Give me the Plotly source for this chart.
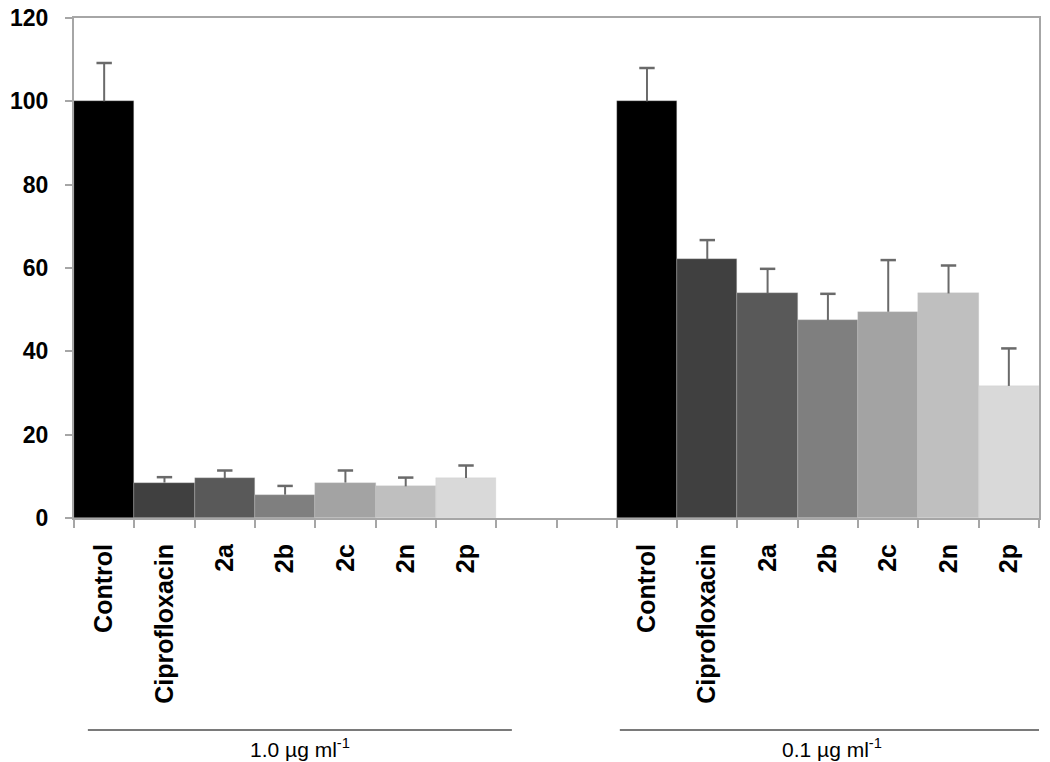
import plotly.graph_objects as go

compounds = ["Control", "Ciprofloxacin", "2a", "2b", "2c", "2n", "2p"]
colors = ["#000000", "#404040", "#595959", "#7f7f7f", "#a3a3a3", "#bfbfbf", "#d9d9d9"]
groups = ["1.0 µg ml<sup>-1</sup>", "0.1 µg ml<sup>-1</sup>"]

vals_high = [100, 8.5, 9.6, 5.6, 8.5, 7.6, 9.6]
err_high = [9.2, 1.3, 1.8, 2.1, 2.9, 2.1, 3.0]
vals_low = [100, 62.1, 53.9, 47.5, 49.5, 53.9, 31.7]
err_low = [8.0, 4.6, 5.9, 6.3, 12.4, 6.7, 9.0]

gap_slots = 2
n = len(compounds)
x_high = list(range(n))
x_low = [n + gap_slots + i for i in range(n)]
total = 2 * n + gap_slots

err_color = "#6a6a6a"
fig = go.Figure()
for xs, vals, errs in [(x_high, vals_high, err_high), (x_low, vals_low, err_low)]:
    fig.add_trace(go.Bar(
        x=xs, y=vals, width=1.0,
        marker=dict(color=colors, line=dict(color="rgba(200,200,200,0.6)", width=0.5)),
        showlegend=False, hoverinfo="skip",
    ))
    # upper error bars: stem + top cap only
    sx, sy = [], []
    for x, v, e in zip(xs, vals, errs):
        sx += [x, x, None]
        sy += [v, v + e, None]
    fig.add_trace(go.Scatter(x=sx, y=sy, mode="lines", line=dict(color=err_color, width=2),
                             showlegend=False, hoverinfo="skip"))
    fig.add_trace(go.Scatter(x=xs, y=[v + e for v, e in zip(vals, errs)], mode="markers",
                             marker=dict(symbol="line-ew-open", size=11, color=err_color,
                                         line=dict(color=err_color, width=2.5)),
                             showlegend=False, hoverinfo="skip"))

axis_color = "#a6a6a6"
fig.update_layout(
    width=1050, height=762,
    margin=dict(l=74, r=11, t=18, b=244, autoexpand=False),
    paper_bgcolor="white", plot_bgcolor="white",
    bargap=0,
    xaxis=dict(
        range=[-0.5, total - 0.5],
        tickmode="array", tickvals=x_high + x_low, ticktext=compounds + compounds,
        tickangle=-90, ticks="", ticklabelstandoff=14,
        tickfont=dict(family="Liberation Sans, Arial", size=25, color="black", weight="bold"),
        showline=True, linecolor=axis_color, linewidth=2, mirror=True,
        showgrid=False, zeroline=False, automargin=False,
        minor=dict(tick0=0.5, dtick=1, ticks="outside", ticklen=8, tickcolor=axis_color, tickwidth=1.5, showgrid=False),
    ),
    yaxis=dict(
        range=[0, 120], dtick=20, ticks="outside", ticklen=7, tickcolor=axis_color, tickwidth=1.5,
        ticklabelstandoff=12, automargin=False,
        tickfont=dict(family="Liberation Sans, Arial", size=23, color="black", weight="bold"),
        showline=True, linecolor=axis_color, linewidth=2, mirror=True,
        showgrid=False, zeroline=False,
    ),
)

# group brackets beneath the category labels
spans = [(-0.27, n - 0.24), (n + gap_slots - 0.45, total - 0.4)]
for (x0, x1), label in zip(spans, groups):
    fig.add_shape(type="line", xref="x", yref="paper", x0=x0, x1=x1, y0=-0.424, y1=-0.424,
                  line=dict(color="#7a7a7a", width=2))
    fig.add_annotation(xref="x", yref="paper", x=(x0 + x1) / 2, y=-0.46, text=label,
                       showarrow=False, yanchor="middle",
                       font=dict(family="Liberation Sans, Arial", size=21, color="black"))

fig.write_html("out.html", config={"displayModeBar": False},
               post_script="document.body.style.margin='0';")
